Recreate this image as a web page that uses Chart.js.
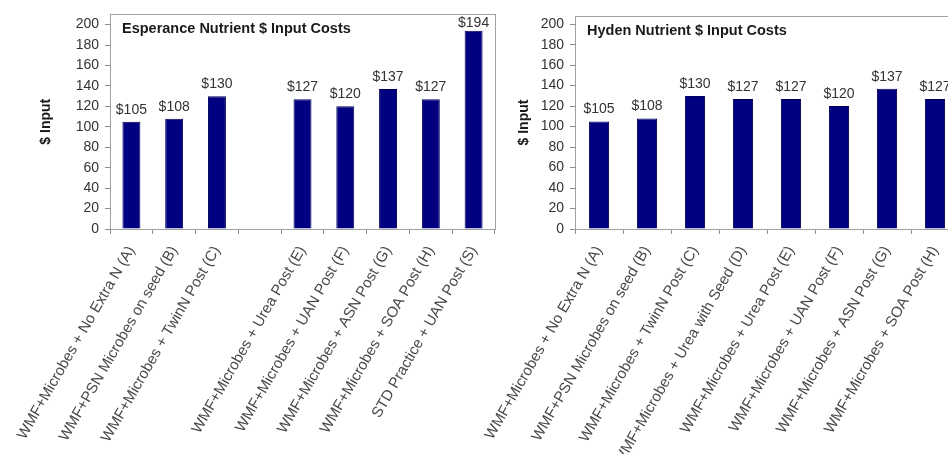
<!DOCTYPE html>
<html>
<head>
<meta charset="utf-8">
<title>Nutrient $ Input Costs</title>
<script src="https://cdn.jsdelivr.net/npm/chart.js@4.4.0/dist/chart.umd.min.js"></script>
<style>
  html, body { margin: 0; padding: 0; background: #fff; overflow: hidden; width: 948px; height: 454px; }
  .panel { position: absolute; top: 0; height: 454px; }
  #panel-esperance { left: 0; width: 500px; }
  #panel-hyden { left: 470px; width: 510px; }
</style>
</head>
<body>
<div class="panel" id="panel-esperance"><canvas id="chart-esperance"></canvas></div>
<div class="panel" id="panel-hyden"><canvas id="chart-hyden"></canvas></div>
<script>
// Treatment labels and $/ha input costs per site
const esperanceLabels = [
  'WMF+Microbes + No Extra N (A)',
  'WMF+PSN Microbes on seed (B)',
  'WMF+Microbes + TwinN Post (C)',
  '',
  'WMF+Microbes + Urea Post (E)',
  'WMF+Microbes + UAN Post (F)',
  'WMF+Microbes + ASN Post (G)',
  'WMF+Microbes + SOA Post (H)',
  'STD Practice + UAN Post (S)'
];
const esperanceCosts = [105, 108, 130, null, 127, 120, 137, 127, 194];

const hydenLabels = [
  'WMF+Microbes + No Extra N (A)',
  'WMF+PSN Microbes on seed (B)',
  'WMF+Microbes + TwinN Post (C)',
  'WMF+Microbes + Urea with Seed (D)',
  'WMF+Microbes + Urea Post (E)',
  'WMF+Microbes + UAN Post (F)',
  'WMF+Microbes + ASN Post (G)',
  'WMF+Microbes + SOA Post (H)'
];
const hydenCosts = [105, 108, 130, 127, 127, 120, 137, 127];

const yTickValues = [0, 20, 40, 60, 80, 100, 120, 140, 160, 180, 200];

const FONT = '"Liberation Sans", Arial, sans-serif';
const barColor = '#000080';
const axisColor = '#8c8c8c';
const textColor = '#333';

// Plot frame, inset title and "$" value labels above each bar
const insetDecor = {
  id: 'insetDecor',
  afterDatasetsDraw(chart, args, opts) {
    const { ctx, chartArea: a } = chart;
    ctx.save();
    ctx.strokeStyle = '#a0a0a0';
    ctx.lineWidth = 1;
    ctx.strokeRect(Math.round(a.left) + 0.5, Math.round(a.top) + 0.5,
      Math.round(a.right - a.left), Math.round(a.bottom - a.top));

    ctx.font = 'bold 14.5px ' + FONT;
    ctx.fillStyle = '#1a1a1a';
    ctx.textBaseline = 'middle';
    ctx.textAlign = 'left';
    ctx.fillText(opts.text, a.left + 12, a.top + 15);

    const meta = chart.getDatasetMeta(0);
    const values = chart.data.datasets[0].data;
    ctx.font = '14px ' + FONT;
    ctx.fillStyle = textColor;
    ctx.textAlign = 'center';
    ctx.textBaseline = 'alphabetic';
    meta.data.forEach((bar, i) => {
      if (values[i] == null) return;
      const y = Math.max(bar.y - 8, a.top + 13);
      ctx.fillText('$' + values[i], bar.x, y);
    });
    ctx.restore();
  }
};

function makeChart(canvasId, labels, values, title, box) {
  const ctx = document.getElementById(canvasId).getContext('2d');
  return new Chart(ctx, {
    type: 'bar',
    data: {
      labels: labels,
      datasets: [{
        data: values,
        backgroundColor: barColor,
        borderColor: '#00005a',
        borderWidth: 1,
        barPercentage: 0.42,
        categoryPercentage: 1
      }]
    },
    options: {
      responsive: true,
      maintainAspectRatio: false,
      animation: false,
      layout: { padding: { top: box.top, right: box.right, left: 0, bottom: 0 } },
      plugins: {
        legend: { display: false },
        tooltip: { enabled: false },
        insetDecor: { text: title }
      },
      scales: {
        x: {
          grid: { drawOnChartArea: false, offset: true, tickLength: 5, color: axisColor },
          border: { color: axisColor },
          ticks: {
            autoSkip: false,
            minRotation: 60,
            maxRotation: 60,
            padding: 9,
            color: '#484848',
            font: { family: FONT, size: 15 }
          },
          afterFit: scale => {
            scale.height = box.xHeight;
            scale.paddingLeft = 0;
            scale.paddingRight = 0;
          }
        },
        y: {
          min: 0,
          max: box.yMax,
          grid: { drawOnChartArea: false, tickLength: 5, color: axisColor },
          border: { color: axisColor },
          ticks: { padding: 6, color: textColor, font: { family: FONT, size: 14 } },
          afterBuildTicks: scale => { scale.ticks = yTickValues.map(v => ({ value: v })); },
          title: {
            display: true,
            text: '$ Input',
            color: '#1a1a1a',
            font: { family: FONT, size: 14, weight: 'bold' },
            padding: { top: box.titlePad, bottom: 0 }
          },
          afterFit: scale => { scale.width = box.yWidth; }
        }
      }
    },
    plugins: [insetDecor]
  });
}

makeChart('chart-esperance', esperanceLabels, esperanceCosts, 'Esperance Nutrient $ Input Costs',
  { top: 14, right: 5, xHeight: 225, yWidth: 110, yMax: 210, titlePad: 38 });

makeChart('chart-hyden', hydenLabels, hydenCosts, 'Hyden Nutrient $ Input Costs',
  { top: 16, right: 21, xHeight: 225, yWidth: 105, yMax: 208, titlePad: 46 });
</script>
</body>
</html>
